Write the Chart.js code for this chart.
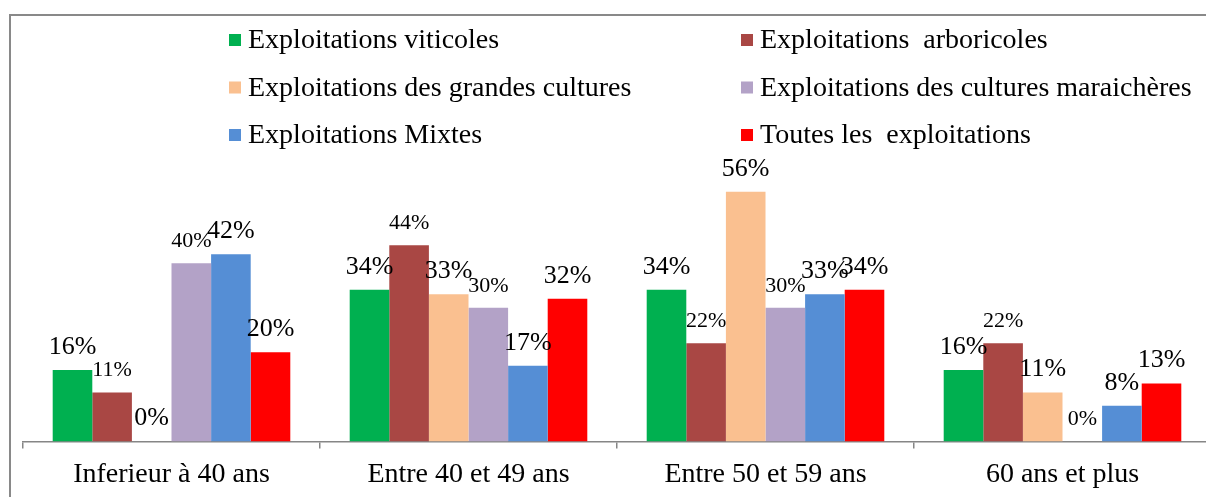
<!DOCTYPE html>
<html>
<head>
<meta charset="utf-8">
<script src="https://cdn.jsdelivr.net/npm/chart.js@4.4.1/dist/chart.umd.min.js"></script>
<style>
html,body{margin:0;padding:0;background:#fff;overflow:hidden;width:1206px;height:497px;}
#wrap{position:absolute;left:0;top:0;width:1240px;height:510px;}
</style>
</head>
<body>
<div id="wrap"><canvas id="c" width="1240" height="510"></canvas></div>
<script>
const categories = ["Inferieur à 40 ans", "Entre 40 et 49 ans", "Entre 50 et 59 ans", "60 ans et plus"];
const seriesNames = ["Exploitations viticoles", "Exploitations  arboricoles", "Exploitations des grandes cultures", "Exploitations des cultures maraichères", "Exploitations Mixtes", "Toutes les  exploitations"];
const viticoles   = [16, 34, 34, 16];
const arboricoles = [11, 44, 22, 22];
const grandes     = [0, 33, 56, 11];
const maraicheres = [40, 30, 30, 0];
const mixtes      = [42, 17, 33, 8];
const toutes      = [20, 32, 34, 13];

const colors = ["#00B050", "#A94744", "#FAC090", "#B3A2C7", "#558ED5", "#FF0000"];
const labelSizes = [26, 22, 26, 22, 26, 26];
const FONT = '"Liberation Serif", "Times New Roman", serif';

const seriesValues = [viticoles, arboricoles, grandes, maraicheres, mixtes, toutes];

const frame = {
  id: 'frame',
  beforeDraw(chart) {
    const ctx = chart.ctx;
    ctx.save();
    ctx.fillStyle = '#fff';
    ctx.fillRect(0, 0, chart.width, chart.height);
    ctx.strokeStyle = '#898989';
    ctx.lineWidth = 2;
    ctx.beginPath();
    ctx.moveTo(10, chart.height + 2);
    ctx.lineTo(10, 15);
    ctx.lineTo(chart.width + 2, 15);
    ctx.stroke();
    ctx.restore();
  }
};

const valueLabels = {
  id: 'valueLabels',
  afterDatasetsDraw(chart) {
    const ctx = chart.ctx;
    ctx.save();
    ctx.fillStyle = '#000';
    ctx.textAlign = 'center';
    ctx.textBaseline = 'alphabetic';
    chart.data.datasets.forEach((ds, i) => {
      const meta = chart.getDatasetMeta(i);
      ctx.font = labelSizes[i] + 'px ' + FONT;
      meta.data.forEach((bar, j) => {
        ctx.fillText(ds.data[j] + '%', bar.x, bar.y - 16);
      });
    });
    ctx.restore();
  }
};

const legendPlugin = {
  id: 'legend2col',
  afterDraw(chart) {
    const ctx = chart.ctx;
    const colX = [229, 741];
    const rowY = [40, 87.5, 135];
    ctx.save();
    ctx.font = '28px ' + FONT;
    ctx.textBaseline = 'middle';
    ctx.textAlign = 'left';
    chart.data.datasets.forEach((ds, i) => {
      const x = colX[i % 2];
      const y = rowY[Math.floor(i / 2)];
      ctx.fillStyle = ds.backgroundColor;
      ctx.fillRect(x, y - 6, 12, 12);
      ctx.fillStyle = '#000';
      ctx.fillText(ds.label, x + 19, y + 1);
    });
    ctx.restore();
  }
};

new Chart(document.getElementById('c'), {
  type: 'bar',
  data: {
    labels: categories,
    datasets: seriesNames.map((n, i) => ({
      label: n,
      data: seriesValues[i],
      backgroundColor: colors[i],
      borderWidth: 0,
      barPercentage: 1.0,
      categoryPercentage: 0.8
    }))
  },
  options: {
    responsive: false,
    animation: false,
    layout: { padding: { left: 23, right: 29, top: 174, bottom: 10 } },
    plugins: { legend: { display: false }, tooltip: { enabled: false } },
    scales: {
      x: {
        grid: { display: true, drawOnChartArea: false, drawTicks: true, tickLength: 7, color: '#868686', lineWidth: 1.5, offset: true },
        border: { display: true, color: '#868686', width: 1.5 },
        ticks: { color: '#000', font: { family: FONT, size: 28 }, padding: 9, maxRotation: 0 }
      },
      y: { display: false, min: 0, max: 60 }
    }
  },
  plugins: [frame, valueLabels, legendPlugin]
});
</script>
</body>
</html>
